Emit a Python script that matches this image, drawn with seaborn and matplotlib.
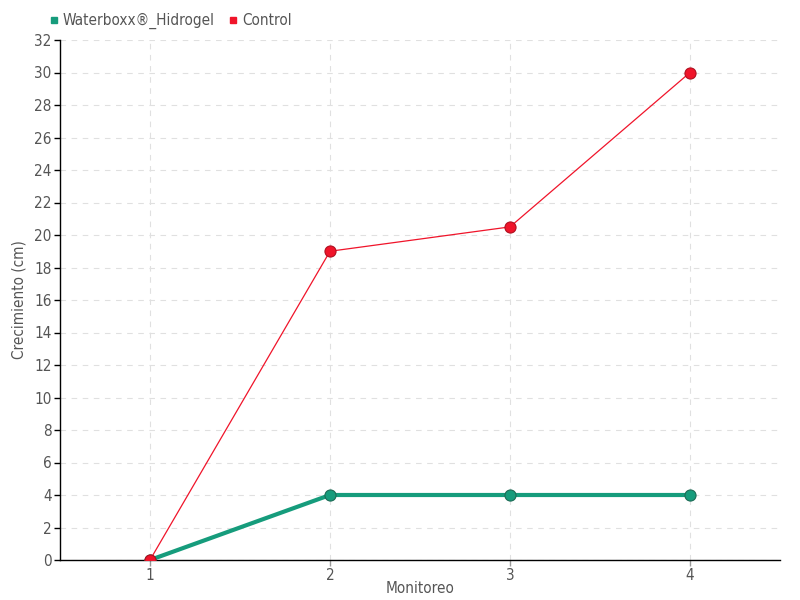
import pandas as pd
import numpy as np
import matplotlib.pyplot as plt
import seaborn as sns

# data
monitoreo = [1, 2, 3, 4]
waterboxx = [0, 4, 4, 4]
control = [0, 19, 20.5, 30]

df = pd.DataFrame({
    "Monitoreo": monitoreo * 2,
    "Crecimiento": waterboxx + control,
    "serie": ["Waterboxx®_Hidrogel"] * 4 + ["Control"] * 4,
})

sns.set_style("white")
plt.rcParams["font.family"] = ["DejaVu Sans"]
plt.rcParams["font.stretch"] = "condensed"

fig = plt.figure(figsize=(8, 6), dpi=100)
ax = fig.add_axes([60 / 800, 40 / 600, 720 / 800, 520 / 600])

palette = {"Waterboxx®_Hidrogel": "#169c7c", "Control": "#f0142a"}
widths = {"Waterboxx®_Hidrogel": 3, "Control": 0.9}
edges = {"Waterboxx®_Hidrogel": "#1d6b55", "Control": "#b01020"}
for name in ["Waterboxx®_Hidrogel", "Control"]:
    sub = df[df.serie == name]
    sns.lineplot(data=sub, x="Monitoreo", y="Crecimiento", ax=ax,
                 color=palette[name], linewidth=widths[name], marker="o",
                 markersize=8, markeredgecolor=edges[name],
                 markeredgewidth=0.8, label=name, zorder=3)

ax.set_xlim(0.5, 4.5)
ax.set_ylim(0, 32)
ax.set_xticks(monitoreo)
ax.set_yticks(np.arange(0, 33, 2))
ax.grid(True, linestyle=(0, (5, 5)), color="#e0e0e0", linewidth=0.8)
ax.tick_params(axis="both", colors="#555555", labelsize=11, length=4, width=1,
               direction="out", left=True, bottom=True, pad=2)
ax.tick_params(axis="y", color="black")
ax.tick_params(axis="x", color="#999999")
for s in ["top", "right"]:
    ax.spines[s].set_visible(False)
for s in ["left", "bottom"]:
    ax.spines[s].set_color("black")
    ax.spines[s].set_linewidth(1)

ax.set_xlabel("Monitoreo", color="#555555", fontsize=11, labelpad=-2)
ax.set_ylabel("Crecimiento (cm)", color="#555555", fontsize=11)
ax.yaxis.set_label_coords(-0.046, 0.5)

handles = [plt.Line2D([], [], marker="s", linestyle="", color=palette[n], markersize=4.5)
           for n in palette]
ax.legend(handles, list(palette), loc="lower left", bbox_to_anchor=(-0.045, 1.0),
          ncol=2, frameon=False, fontsize=11, handletextpad=-0.4,
          columnspacing=0.2, labelcolor="#555555", borderaxespad=0.3)

plt.savefig("out.png", dpi=100)
